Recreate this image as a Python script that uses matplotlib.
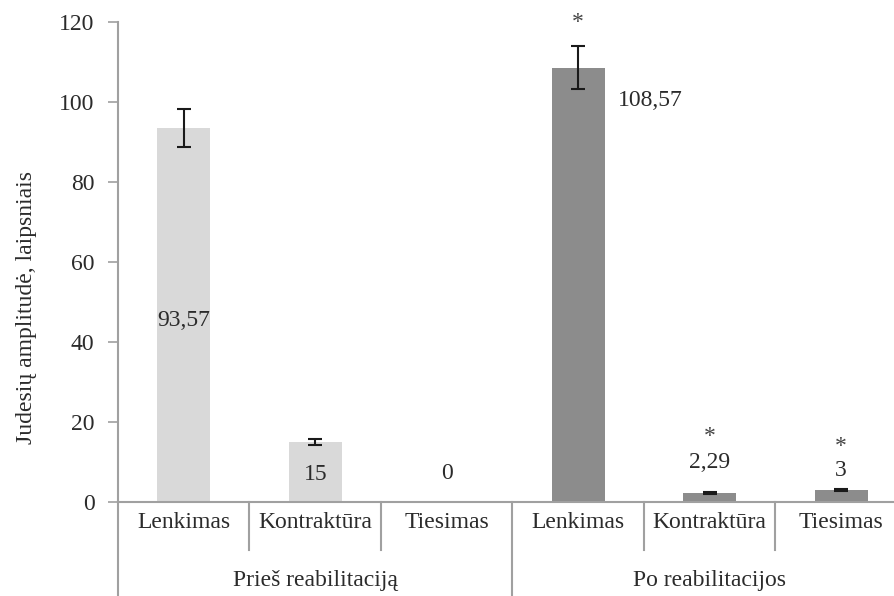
import matplotlib.pyplot as plt
from matplotlib.transforms import blended_transform_factory

# ===== Data =====
categories = ["Lenkimas", "Kontraktūra", "Tiesimas",
              "Lenkimas", "Kontraktūra", "Tiesimas"]
groups = ["Prieš reabilitaciją", "Po reabilitacijos"]
values = [93.57, 15, 0, 108.57, 2.29, 3]
errors = [4.7, 0.7, 0, 5.4, 0.3, 0.2]
value_labels = ["93,57", "15", "0", "108,57", "2,29", "3"]
significant = [False, False, False, True, True, True]
yticks = [0, 20, 40, 60, 80, 100, 120]

plt.rcParams["font.family"] = ["Liberation Serif", "DejaVu Serif"]
text_color = "#2b2b2b"
axis_color = "#a0a0a0"
colors = ["#d9d9d9"] * 3 + ["#8c8c8c"] * 3

fig = plt.figure(figsize=(8.95, 5.96), dpi=100)
ax = fig.add_axes([118 / 895, 1 - 502 / 596, 789 / 895, 480 / 596])

x = list(range(len(values)))
ax.bar(x, values, width=0.4, color=colors, zorder=2)
# no error bar where the value is zero
ex = [i for i in x if errors[i] > 0]
ax.errorbar(ex, [values[i] for i in ex], yerr=[errors[i] for i in ex],
            fmt="none", ecolor="#1a1a1a", elinewidth=1.5, capsize=5,
            capthick=1.5, zorder=3)

ax.set_xlim(-0.5, 5.5)
ax.set_ylim(0, 120)
ax.set_yticks(yticks)
ax.set_xticks([])
ax.tick_params(axis="y", direction="out", length=7, width=1.2,
               color=axis_color, labelsize=17, labelcolor=text_color, pad=10)
for s in ["top", "right"]:
    ax.spines[s].set_visible(False)
for s in ["left", "bottom"]:
    ax.spines[s].set_color(axis_color)
    ax.spines[s].set_linewidth(1.5)

ax.set_ylabel("Judesių amplitudė, laipsniais", fontsize=17,
              color=text_color)
ax.yaxis.set_label_coords(-0.103, 0.406)

# ===== Value labels =====
# (x offset, y position, ha) for each bar label
label_pos = [(0, 45.5, "center"), (0, 6.8, "center"), (0, 7.2, "center"),
             (0.3, 100.5, "left"), (0, 9.8, "center"), (0, 7.8, "center")]
star_y = [None, None, None, 120, 16.3, 13.9]
for i, lab in enumerate(value_labels):
    dx, yy, ha = label_pos[i]
    ax.text(i + dx, yy, lab, ha=ha, va="center", fontsize=17,
            color=text_color, zorder=4)
    if significant[i]:
        ax.text(i, star_y[i], "*", ha="center", va="center", fontsize=17,
                color="#444444", zorder=4)

# ===== Two-level x axis =====
trans = blended_transform_factory(ax.transData, ax.transAxes)
for i, cat in enumerate(categories):
    ax.text(i, -0.042, cat, ha="center", va="center", fontsize=17,
            color=text_color, transform=trans)
for b in [0.5, 1.5, 3.5, 4.5]:
    ax.plot([b, b], [0, -0.1], color=axis_color, lw=1.5,
            transform=trans, clip_on=False)
for b in [-0.5, 2.5, 5.5]:
    ax.plot([b, b], [0, -0.2], color=axis_color, lw=1.5,
            transform=trans, clip_on=False)
for g, name in enumerate(groups):
    ax.text(g * 3 + 1, -0.163, name, ha="center", va="center", fontsize=17,
            color=text_color, transform=trans)

fig.savefig("out.png", dpi=100)
